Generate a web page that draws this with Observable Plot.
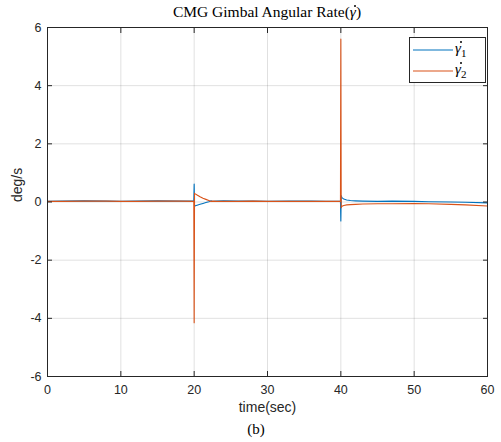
<!DOCTYPE html>
<html><head><meta charset="utf-8">
<script src="https://cdn.jsdelivr.net/npm/d3@7"></script>
<script src="https://cdn.jsdelivr.net/npm/@observablehq/plot@0.6"></script>
<style>
body{margin:0;background:#fff;}
#wrap{position:relative;width:501px;height:442px;overflow:hidden;}
#title{position:absolute;left:0;top:1px;width:534px;height:22px;text-align:center;font-family:"Liberation Serif",serif;font-size:15.5px;line-height:22px;color:#000;}
#chart{position:absolute;left:0;top:22px;}
#caption{position:absolute;left:206px;top:421px;width:100px;text-align:center;font-family:"Liberation Serif",serif;font-size:15px;color:#000;}
#legend{position:absolute;left:409px;top:37px;width:77px;height:46px;border:1px solid #262626;background:#fff;box-sizing:border-box;}
.item{position:absolute;left:3px;height:20px;display:flex;align-items:center;}
.item .lbl{font-family:"Liberation Serif",serif;font-size:15px;margin-left:2px;color:#000;line-height:20px;}
.item sub{font-size:11px;font-style:normal;}
.gd{position:relative;display:inline-block;}
.gd .dot{position:absolute;left:0.3em;top:0.24em;width:2px;height:2px;border-radius:50%;background:#000;}
</style></head><body>
<div id="wrap">
<div id="title">CMG Gimbal Angular Rate(<span class="gd"><i>γ</i><span class="dot"></span></span>)</div>
<div id="chart"></div>
<div id="caption">(b)</div>
<div id="legend"></div>
</div>
<script>
const seriesNames = ["γ̇1", "γ̇2"];
const seriesColors = ["#0072BD", "#D95319"];
const xTicks = [0, 10, 20, 30, 40, 50, 60];
const yTicks = [-6, -4, -2, 0, 2, 4, 6];
const time = [0, 2, 5, 8, 10, 12, 15, 18, 19.95, 20.0, 20.05, 20.15, 20.4, 20.8, 21.2, 21.6, 22.0, 22.3, 22.6, 23, 24, 26, 28, 30, 33, 36, 38, 39.95, 40.0, 40.05, 40.15, 40.4, 40.8, 41.3, 42, 43, 45, 47, 50, 52, 55, 57, 60];
const gamma1 = [0.02, 0.03, 0.04, 0.03, 0.02, 0.03, 0.04, 0.03, 0.03, 0.62, -0.15, -0.13, -0.11, -0.08, -0.05, -0.02, 0.01, 0.04, 0.02, 0.03, 0.04, 0.03, 0.03, 0.02, 0.03, 0.03, 0.02, 0.02, -0.65, 0.22, 0.15, 0.1, 0.07, 0.05, 0.04, 0.03, 0.02, 0.03, 0.02, 0.01, 0.0, -0.01, -0.03];
const gamma2 = [0.02, 0.02, 0.03, 0.03, 0.02, 0.02, 0.03, 0.03, 0.02, -4.15, 0.3, 0.28, 0.24, 0.18, 0.13, 0.09, 0.05, 0.02, 0.03, 0.02, 0.02, 0.02, 0.03, 0.02, 0.02, 0.02, 0.02, 0.02, 5.6, -0.2, -0.15, -0.12, -0.1, -0.09, -0.08, -0.07, -0.06, -0.06, -0.05, -0.06, -0.08, -0.1, -0.14];

const rows = [];
[gamma1, gamma2].forEach((vals, i) => vals.forEach((v, j) => rows.push({t: time[j], v, s: seriesNames[i]})));

const axisColor = "#262626";
const tickFont = "Liberation Sans, Arial, sans-serif";
const fmt = d => String(d);

const chart = Plot.plot({
  width: 501, height: 400,
  marginTop: 5, marginBottom: 46, marginLeft: 47, marginRight: 14,
  style: {background: "#fff", fontFamily: tickFont, color: axisColor, overflow: "visible"},
  x: {domain: [0, 60], ticks: xTicks, label: null},
  y: {domain: [-6, 6], ticks: yTicks, label: null},
  color: {domain: seriesNames, range: seriesColors},
  marks: [
    Plot.gridX(xTicks, {stroke: "#000", strokeOpacity: 0.12}),
    Plot.gridY(yTicks, {stroke: "#000", strokeOpacity: 0.12}),
    Plot.line(rows, {x: "t", y: "v", z: "s", stroke: "s", strokeWidth: 1.1}),
    Plot.axisX(xTicks, {anchor: "bottom", tickSize: -5, tickPadding: 14, tickFormat: fmt, fontSize: 12.5, fill: axisColor, stroke: axisColor, label: null}),
    Plot.axisX(xTicks, {anchor: "top", tickSize: -5, tickFormat: () => "", stroke: axisColor, label: null}),
    Plot.axisY(yTicks, {anchor: "left", tickSize: -5, tickPadding: 11, tickFormat: fmt, fontSize: 12.5, fill: axisColor, stroke: axisColor, label: null}),
    Plot.axisY(yTicks, {anchor: "right", tickSize: -5, tickFormat: () => "", stroke: axisColor, label: null}),
    Plot.frame({stroke: axisColor}),
    Plot.text(["time(sec)"], {frameAnchor: "bottom", dy: 35, fontSize: 14, fill: axisColor}),
    Plot.text(["deg/s"], {frameAnchor: "left", dx: -30, rotate: -90, fontSize: 14, fill: axisColor})
  ]
});
document.getElementById("chart").appendChild(chart);

const legend = document.getElementById("legend");
seriesNames.forEach((name, i) => {
  const it = document.createElement("div");
  it.className = "item";
  it.style.top = (2 + i * 21) + "px";
  it.innerHTML = `<svg width="40" height="4"><line x1="0" x2="40" y1="2" y2="2" stroke="${seriesColors[i]}" stroke-width="1.1"/></svg><span class="lbl"><span class="gd"><i>γ</i><span class="dot"></span></span><sub>${name.slice(2)}</sub></span>`;
  legend.appendChild(it);
});
</script>
</body></html>
